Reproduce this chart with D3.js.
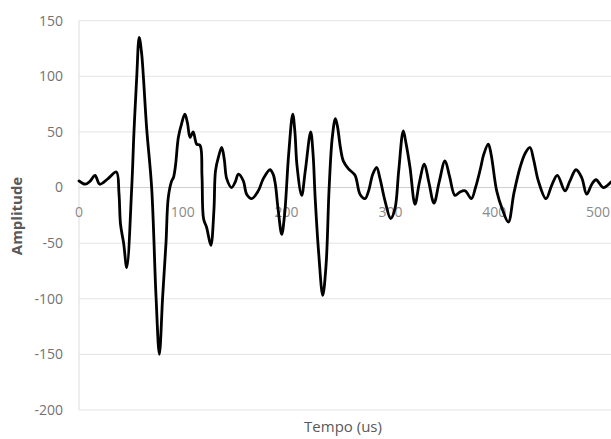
<!DOCTYPE html>
<html><head><meta charset="utf-8">
<script src="https://cdn.jsdelivr.net/npm/d3@7"></script>
<style>html,body{margin:0;padding:0;background:#fff;overflow:hidden}</style>
</head><body>
<svg id="chart" width="611" height="439"></svg>
<script>
const timeUs = [0,6,11,15.4,20,28,36,38.5,40,43,46,50.8,53,55.6,58,60.4,62,65.2,70,74.2,77.4,80.6,83.8,86,89.3,91,93,95.7,99,102,104.5,107,110,113.4,116.6,118.5,120,123,127,130,131.5,134.5,137.5,140,142.3,147,150.5,153.5,158.3,161.5,166.4,172.7,177.6,184,187,189,192,195.3,198,202,205.9,208,210,214.5,218,223.2,225.5,227.5,231,234.8,238,241,244,247,249,252,254.6,259.4,265.9,270.7,275.5,279,283,286.8,290,294.8,300.3,304.4,308,312.4,315,318.9,323.7,328,332.7,337,342,347,352.6,357,362.2,367,372,378,382,387,390,394.3,397,402.4,408,413.6,419,424.9,430,434.5,438,442.5,449.9,455.4,460.8,468.2,473,478.8,484.3,489.1,494,498.1,505.1,512.5];
const amplitude = [6,3,6,11,3,8,14,-5,-33,-50,-72,0,51,99,135,120,100,53,0,-98,-150,-98,-50,-9,6,9,20,45,58,66,58,45,50,39,38,10,-28,-36,-52,-20,15,28,36,25,8,0,5,12,6,-6,-10,-3,8,16,12,4,-21,-42,-25,30,66,50,20,-7,15,50,30,-9,-60,-97,-70,0,45,62,55,35,24,17,11,-6,-10,-3,12,18,8,-12,-28,-19,15,51,40,18,-15,5,21,5,-14,5,24,10,-7,-4,-3,-10,0,18,30,39,30,-3,-20,-31,-5,18,31,36,25,6,-10,2,11,-3,6,16,9,-6,3,7,0,5];
const xTicks = [0,100,200,300,400,500];
const yTicks = [150,100,50,0,-50,-100,-150,-200];
const xTitle = "Tempo (us)";
const yTitle = "Amplitude";

const svg = d3.select("#chart");
const x = d3.scaleLinear().domain([0,500]).range([79,598]);
const y = d3.scaleLinear().domain([-200,150]).range([410,20.7]);
const font = "'Open Sans', sans-serif";

// gridlines
svg.append("g").selectAll("line").data(yTicks).join("line")
  .attr("x1", x(0)).attr("x2", 611)
  .attr("y1", d => y(d)).attr("y2", d => y(d))
  .attr("stroke", d => d === 0 ? "#cfcfcf" : "#e4e4e4").attr("stroke-width", 1);
// vertical axis line
svg.append("line").attr("x1", x(0)).attr("x2", x(0)).attr("y1", y(150)).attr("y2", y(-200))
  .attr("stroke", "#dcdcdc").attr("stroke-width", 1);

// y tick labels
svg.append("g").selectAll("text").data(yTicks).join("text")
  .attr("x", 63).attr("y", d => y(d)).attr("dy", "0.35em")
  .attr("text-anchor", "end").attr("font-family", font).attr("font-size", 14)
  .attr("fill", "#737373").text(d => d);
// x tick labels
svg.append("g").selectAll("text").data(xTicks).join("text")
  .attr("x", d => x(d)).attr("y", 212).attr("dy", "0.35em")
  .attr("text-anchor", "middle").attr("font-family", font).attr("font-size", 14)
  .attr("fill", "#8a8a8a").text(d => d);

// titles
svg.append("text").attr("x", 343).attr("y", 427).attr("dy", "0.35em")
  .attr("text-anchor", "middle").attr("font-family", font).attr("font-size", 15)
  .attr("fill", "#595959").text(xTitle);
svg.append("text").attr("transform", "translate(17,216) rotate(-90)").attr("dy", "0.35em")
  .attr("text-anchor", "middle").attr("font-family", font).attr("font-size", 15)
  .attr("font-weight", "bold").attr("fill", "#595959").text(yTitle);

// line
const data = timeUs.map((t,i) => ({t, v: amplitude[i]}));
const line = d3.line().x(d => x(d.t)).y(d => y(d.v)).curve(d3.curveCatmullRom.alpha(0.5));
svg.append("path").datum(data).attr("d", line)
  .attr("fill", "none").attr("stroke", "#000").attr("stroke-width", 2.8)
  .attr("stroke-linejoin", "round").attr("stroke-linecap", "round");
</script>
</body></html>
